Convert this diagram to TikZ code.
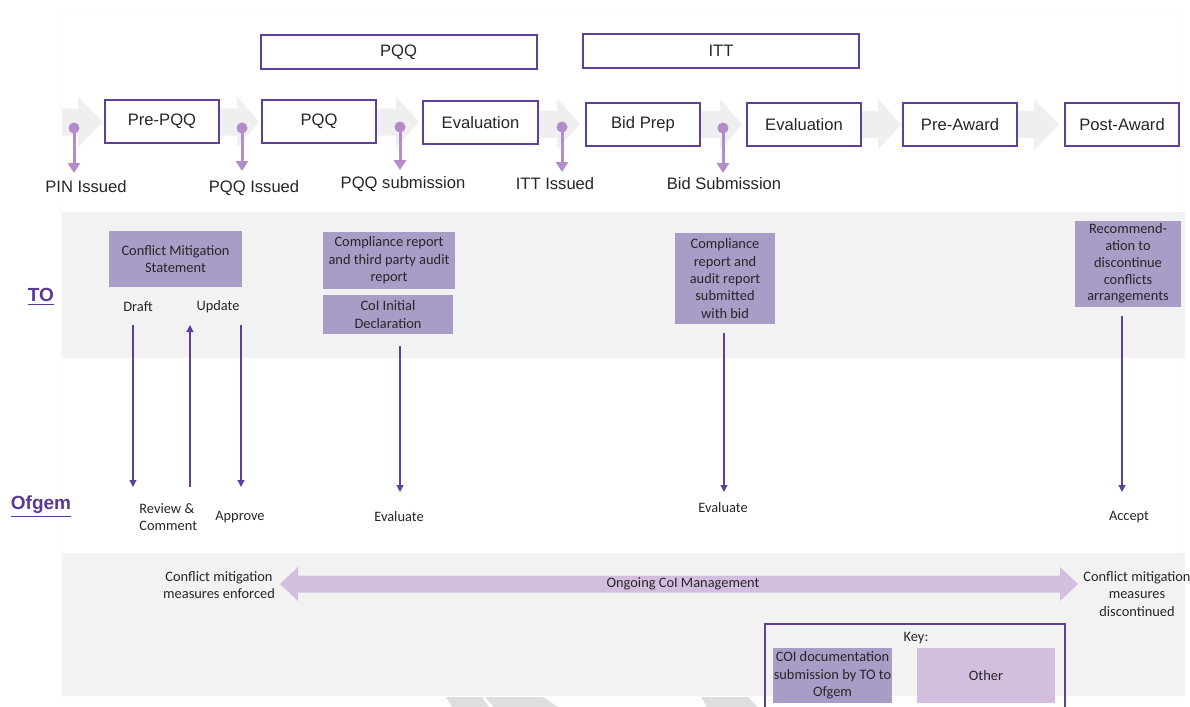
\documentclass[tikz,border=0pt]{standalone}
\usepackage{fontspec}
\setmainfont{Liberation Sans}
\newfontfamily\smallfont{Carlito}
\usetikzlibrary{arrows.meta}
\definecolor{pborder}{HTML}{603F9B}
\definecolor{ptext}{HTML}{5B3898}
\definecolor{pinc}{HTML}{B48BCB}
\definecolor{chev}{HTML}{EFEFEF}
\definecolor{band}{HTML}{F2F2F2}
\definecolor{boxf}{HTML}{A99DC7}
\definecolor{lightp}{HTML}{D4BEE0}
\definecolor{txt}{HTML}{262626}
\definecolor{diag}{HTML}{DEDEDE}
\newcommand\mychev[4]{\fill[chev] (#1,#4-13.5) -- (#2,#4-13.5) -- (#2,#4-25.5) -- (#3,#4) -- (#2,#4+25.5) -- (#2,#4+13.5) -- (#1,#4+13.5) -- cycle;}
\begin{document}
\begin{tikzpicture}[x=0.5pt,y=-0.5pt,
  every node/.style={text=txt, inner sep=0pt},
  tbox/.style={draw=pborder, line width=1pt, fill=white, minimum width=57pt, minimum height=21.5pt, font=\fontsize{8.3}{10}\selectfont},
  gbox/.style={tbox, minimum width=138pt, minimum height=17pt},
  pbox/.style={fill=boxf, align=center, font=\smallfont\fontsize{7.2}{8.7}\selectfont},
  lbl/.style={font=\fontsize{8.3}{10}\selectfont},
  slbl/.style={align=center, font=\smallfont\fontsize{7.2}{8.7}\selectfont},
  who/.style={font=\bfseries\fontsize{9.5}{11}\selectfont, text=ptext},
  pindot/.style={circle, fill=pinc, minimum size=5.5pt},
  pinarr/.style={draw=pinc, line width=1.5pt, -{Triangle[width=6pt,length=5pt]}},
  darr/.style={draw=pborder, line width=0.6pt, -{Triangle[width=3.5pt,length=3.5pt]}},
]
\useasboundingbox (0,0) rectangle (1190,707);
\clip (0,0) rectangle (1190,707);
\fill[white] (0,0) rectangle (1190,707);
% faint frame
\draw[black!2, line width=0.5pt] (60,13) rectangle (1180,700);
% bands
\fill[band] (62,212) rectangle (1185,358);
\fill[band] (62,553) rectangle (1185,696);
% bottom diagonal shapes
\fill[diag] (446,697) -- (482,697) -- (489,707) -- (452,707) -- cycle;
\fill[diag] (485,697) -- (543,697) -- (558,707) -- (494,707) -- cycle;
\fill[diag] (701,697) -- (748,697) -- (758,707) -- (707,707) -- cycle;
% chevrons
\mychev{62}{78}{103}{122}
\mychev{215}{237}{259}{122}
\mychev{372}{396}{419}{122}
\mychev{534}{557}{580}{124}
\mychev{696}{720}{742}{124.5}
\mychev{857}{878}{901}{124.5}
\mychev{1013}{1034}{1059}{124.5}
% group boxes
\node[gbox] (gpqq) at (398.5,52) {PQQ};
\node[gbox] (gitt) at (721,51) {ITT};
% timeline boxes
\node[tbox] (prepqq) at (162,121.5) {Pre-PQQ};
\node[tbox] (pqq) at (319,121.5) {PQQ};
\node[tbox, minimum width=57.5pt] (eval1) at (480.5,122.5) {Evaluation};
\node[tbox] (bidprep) at (643,124.5) {Bid Prep};
\node[tbox] (eval2) at (804,124.5) {Evaluation};
\node[tbox] (preaward) at (960,124.5) {Pre-Award};
\node[tbox] (postaward) at (1122,124.5) {Post-Award};
% pins
\node[pindot] (p1) at (74,128) {};
\node[pindot] (p2) at (242,128) {};
\node[pindot] (p3) at (400,127) {};
\node[pindot] (p4) at (562,127) {};
\node[pindot] (p5) at (723,128) {};
\coordinate (t1) at (74,173);
\coordinate (t2) at (242,171);
\coordinate (t3) at (400,170);
\coordinate (t4) at (562,172);
\coordinate (t5) at (723,173);
\draw[pinarr] (p1.center) -- (t1);
\draw[pinarr] (p2.center) -- (t2);
\draw[pinarr] (p3.center) -- (t3);
\draw[pinarr] (p4.center) -- (t4);
\draw[pinarr] (p5.center) -- (t5);
\node[lbl] (l1) at (86,187) {PIN Issued};
\node[lbl] (l2) at (254,188) {PQQ Issued};
\node[lbl] (l3) at (403,184) {PQQ submission};
\node[lbl] (l4) at (555,184) {ITT Issued};
\node[lbl] (l5) at (724,184) {Bid Submission};
% who labels
\node[who] (to) at (41,297) {\underline{TO}};
\node[who] (ofgem) at (41,507) {\underline{Ofgem}};
% TO boxes
\node[pbox, minimum width=66.5pt, minimum height=28pt] (cms) at (175.5,259) {Conflict Mitigation\\Statement};
\node[pbox, minimum width=66pt, minimum height=28.5pt] (comp1) at (389,260.5) {Compliance report\\and third party audit\\report};
\node[pbox, minimum width=65pt, minimum height=19.5pt] (coi) at (388,314.5) {CoI Initial\\Declaration};
\node[pbox, minimum width=50pt, minimum height=45.5pt] (comp2) at (725,278.5) {Compliance\\report and\\audit report\\submitted\\with bid};
\node[pbox, minimum width=53pt, minimum height=43pt, font=\smallfont\fontsize{7.2}{8.4}\selectfont] (rec) at (1128,263.5) {Recommend-\\ation to\\discontinue\\conflicts\\arrangements};
% small labels
\node[slbl] (draft) at (138,307) {Draft};
\node[slbl] (update) at (218,307) {Update};
\node[slbl, align=left, anchor=west] (review) at (139,517) {Review \&\\Comment};
\node[slbl] (approve) at (240,517) {Approve};
\node[slbl] (evalA) at (399,517) {Evaluate};
\node[slbl] (evalB) at (723,508) {Evaluate};
\node[slbl] (accept) at (1129,517) {Accept};
% dark arrows
\coordinate (a1s) at (133,325); \coordinate (a1e) at (133,487);
\coordinate (a2s) at (190,487); \coordinate (a2e) at (190,325);
\coordinate (a3s) at (241,325); \coordinate (a3e) at (241,487);
\coordinate (a4s) at (400,346); \coordinate (a4e) at (400,492);
\coordinate (a5s) at (724,333); \coordinate (a5e) at (724,492);
\coordinate (a6s) at (1122,316); \coordinate (a6e) at (1122,492);
\draw[darr] (a1s) -- (a1e);
\draw[darr] (a2s) -- (a2e);
\draw[darr] (a3s) -- (a3e);
\draw[darr] (a4s) -- (a4e);
\draw[darr] (a5s) -- (a5e);
\draw[darr] (a6s) -- (a6e);
% double arrow
\fill[lightp] (280,584) -- (298,567) -- (298,575.5) -- (1060,575.5) -- (1060,567) -- (1078,584) -- (1060,601) -- (1060,592.5) -- (298,592.5) -- (298,601) -- cycle;
\node[slbl] (ongoing) at (683,584) {Ongoing CoI Management};
\node[slbl] (enforced) at (219,585) {Conflict mitigation\\measures enforced};
\node[slbl] (discont) at (1137,594) {Conflict mitigation\\measures\\discontinued};
% key
\draw[pborder, line width=1pt] (765,720) -- (765,624) -- (1065,624) -- (1065,720);
\node[slbl] (key) at (916,638) {Key:};
\node[pbox, minimum width=59.5pt, minimum height=27.5pt] (kcoi) at (832.5,675.5) {COI documentation\\submission by TO to\\Ofgem};
\node[pbox, fill=lightp, minimum width=69pt, minimum height=27.5pt] (kother) at (986,675.5) {Other};
\end{tikzpicture}
\end{document}
